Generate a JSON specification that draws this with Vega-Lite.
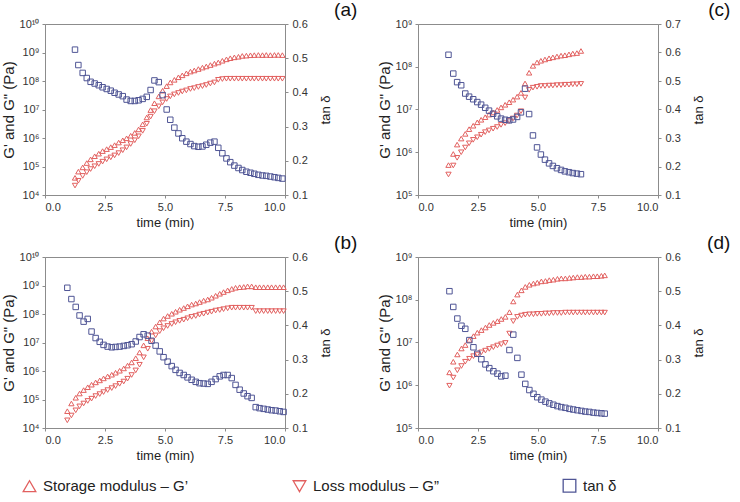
{
 "$schema": "https://vega.github.io/schema/vega-lite/v6.json",
 "padding": {"left": 0, "top": 0, "right": 2, "bottom": 0},
 "config": {
   "font": "Liberation Sans",
   "view": {"stroke": "#8c8c8c", "strokeWidth": 1},
   "axis": {"grid": false, "domainColor": "#8c8c8c", "tickColor": "#8c8c8c", "tickSize": 3, "labelFont": "Liberation Sans", "labelFontSize": 11, "labelColor": "#333333", "titleFont": "Liberation Sans", "titleFontSize": 13, "titleFontWeight": "normal", "titleColor": "#222222", "labelPadding": 3},
   "title": {"font": "Liberation Sans", "fontSize": 19, "fontWeight": "normal", "color": "#111111"}
 },
 "datasets": {
  "a": [
   {"t":1.25,"gs":4.0e4,"gl":2.14e4,"tan":0.525},{"t":1.39,"gs":6.6e4,"gl":3.16e4,"tan":0.480},{"t":1.57,"gs":9.3e4,"gl":4.68e4,"tan":0.457},{"t":1.74,"gs":1.32e5,"gl":6.31e4,"tan":0.442},{"t":1.90,"gs":1.78e5,"gl":8.13e4,"tan":0.431},{"t":2.07,"gs":2.29e5,"gl":1.02e5,"tan":0.426},{"t":2.24,"gs":2.82e5,"gl":1.23e5,"tan":0.421},{"t":2.40,"gs":3.47e5,"gl":1.48e5,"tan":0.415},{"t":2.57,"gs":4.07e5,"gl":1.78e5,"tan":0.410},{"t":2.74,"gs":4.79e5,"gl":2.09e5,"tan":0.405},{"t":2.90,"gs":5.62e5,"gl":2.45e5,"tan":0.399},{"t":3.07,"gs":6.92e5,"gl":2.95e5,"tan":0.394},{"t":3.24,"gs":8.32e5,"gl":3.72e5,"tan":0.389},{"t":3.40,"gs":9.77e5,"gl":4.68e5,"tan":0.379},{"t":3.57,"gs":1.20e6,"gl":6.17e5,"tan":0.375},{"t":3.74,"gs":1.51e6,"gl":8.32e5,"tan":0.375},{"t":3.90,"gs":2.0e6,"gl":1.15e6,"tan":0.377},{"t":4.07,"gs":3.02e6,"gl":1.78e6,"tan":0.381},{"t":4.24,"gs":5.25e6,"gl":3.16e6,"tan":0.387},{"t":4.40,"gs":9.55e6,"gl":5.62e6,"tan":0.407},{"t":4.56,"gs":1.66e7,"gl":8.71e6,"tan":0.435},{"t":4.74,"gs":2.88e7,"gl":1.29e7,"tan":0.430},{"t":4.90,"gs":4.57e7,"gl":1.78e7,"tan":0.392},{"t":5.07,"gs":6.61e7,"gl":2.34e7,"tan":0.350},{"t":5.22,"gs":8.91e7,"gl":2.88e7,"tan":0.320},{"t":5.39,"gs":1.10e8,"gl":3.39e7,"tan":0.297},{"t":5.56,"gs":1.35e8,"gl":3.80e7,"tan":0.280},{"t":5.72,"gs":1.58e8,"gl":4.27e7,"tan":0.266},{"t":5.89,"gs":1.86e8,"gl":4.68e7,"tan":0.256},{"t":6.06,"gs":2.14e8,"gl":5.25e7,"tan":0.249},{"t":6.22,"gs":2.34e8,"gl":5.62e7,"tan":0.243},{"t":6.39,"gs":2.63e8,"gl":6.17e7,"tan":0.241},{"t":6.56,"gs":2.95e8,"gl":6.61e7,"tan":0.242},{"t":6.72,"gs":3.24e8,"gl":7.24e7,"tan":0.247},{"t":6.89,"gs":3.63e8,"gl":8.13e7,"tan":0.253},{"t":7.06,"gs":4.07e8,"gl":8.91e7,"tan":0.256},{"t":7.22,"gs":4.47e8,"gl":1.10e8,"tan":0.238},{"t":7.39,"gs":5.13e8,"gl":1.17e8,"tan":0.222},{"t":7.56,"gs":5.75e8,"gl":1.20e8,"tan":0.207},{"t":7.72,"gs":6.31e8,"gl":1.20e8,"tan":0.196},{"t":7.89,"gs":6.76e8,"gl":1.20e8,"tan":0.186},{"t":8.06,"gs":7.08e8,"gl":1.20e8,"tan":0.179},{"t":8.22,"gs":7.59e8,"gl":1.20e8,"tan":0.173},{"t":8.39,"gs":7.76e8,"gl":1.20e8,"tan":0.168},{"t":8.56,"gs":8.0e8,"gl":1.20e8,"tan":0.165},{"t":8.72,"gs":8.1e8,"gl":1.20e8,"tan":0.162},{"t":8.89,"gs":8.2e8,"gl":1.20e8,"tan":0.159},{"t":9.06,"gs":8.1e8,"gl":1.20e8,"tan":0.157},{"t":9.22,"gs":8.2e8,"gl":1.20e8,"tan":0.156},{"t":9.39,"gs":8.1e8,"gl":1.20e8,"tan":0.154},{"t":9.56,"gs":8.2e8,"gl":1.20e8,"tan":0.152},{"t":9.72,"gs":8.2e8,"gl":1.20e8,"tan":0.150},{"t":9.89,"gs":8.1e8,"gl":1.20e8,"tan":0.148}
  ],
  "b": [
   {"t":0.93,"gs":3.89e4,"gl":1.86e4,"tan":0.510},{"t":1.10,"gs":7.24e4,"gl":2.75e4,"tan":0.477},{"t":1.28,"gs":1.15e5,"gl":4.17e4,"tan":0.454},{"t":1.44,"gs":1.62e5,"gl":5.75e4,"tan":0.429},{"t":1.61,"gs":2.14e5,"gl":7.24e4,"tan":0.411},{"t":1.78,"gs":2.69e5,"gl":8.91e4,"tan":0.419},{"t":1.94,"gs":3.31e5,"gl":1.07e5,"tan":0.382},{"t":2.11,"gs":3.98e5,"gl":1.32e5,"tan":0.363},{"t":2.28,"gs":4.68e5,"gl":1.55e5,"tan":0.352},{"t":2.44,"gs":5.50e5,"gl":1.82e5,"tan":0.343},{"t":2.61,"gs":6.46e5,"gl":2.14e5,"tan":0.338},{"t":2.78,"gs":7.41e5,"gl":2.51e5,"tan":0.336},{"t":2.94,"gs":8.71e5,"gl":2.95e5,"tan":0.337},{"t":3.11,"gs":1.02e6,"gl":3.55e5,"tan":0.338},{"t":3.28,"gs":1.23e6,"gl":4.27e5,"tan":0.340},{"t":3.44,"gs":1.55e6,"gl":5.37e5,"tan":0.342},{"t":3.61,"gs":2.00e6,"gl":7.24e5,"tan":0.345},{"t":3.78,"gs":2.82e6,"gl":1.05e6,"tan":0.353},{"t":3.94,"gs":4.47e6,"gl":1.66e6,"tan":0.366},{"t":4.11,"gs":7.94e6,"gl":3.02e6,"tan":0.374},{"t":4.28,"gs":1.41e7,"gl":6.03e6,"tan":0.370},{"t":4.44,"gs":2.40e7,"gl":1.12e7,"tan":0.355},{"t":4.61,"gs":3.63e7,"gl":1.78e7,"tan":0.341},{"t":4.78,"gs":5.13e7,"gl":2.51e7,"tan":0.324},{"t":4.94,"gs":6.92e7,"gl":3.16e7,"tan":0.307},{"t":5.11,"gs":8.51e7,"gl":3.80e7,"tan":0.294},{"t":5.28,"gs":1.02e8,"gl":4.47e7,"tan":0.281},{"t":5.44,"gs":1.20e8,"gl":5.13e7,"tan":0.270},{"t":5.61,"gs":1.41e8,"gl":5.75e7,"tan":0.261},{"t":5.78,"gs":1.62e8,"gl":6.31e7,"tan":0.255},{"t":5.94,"gs":1.86e8,"gl":7.08e7,"tan":0.248},{"t":6.11,"gs":2.14e8,"gl":7.94e7,"tan":0.241},{"t":6.28,"gs":2.34e8,"gl":8.51e7,"tan":0.235},{"t":6.44,"gs":2.63e8,"gl":9.55e7,"tan":0.231},{"t":6.61,"gs":2.95e8,"gl":1.02e8,"tan":0.230},{"t":6.78,"gs":3.24e8,"gl":1.12e8,"tan":0.229},{"t":6.94,"gs":3.72e8,"gl":1.20e8,"tan":0.235},{"t":7.11,"gs":4.37e8,"gl":1.32e8,"tan":0.243},{"t":7.28,"gs":5.13e8,"gl":1.38e8,"tan":0.251},{"t":7.44,"gs":5.89e8,"gl":1.48e8,"tan":0.255},{"t":7.61,"gs":6.76e8,"gl":1.58e8,"tan":0.255},{"t":7.78,"gs":7.59e8,"gl":1.66e8,"tan":0.246},{"t":7.94,"gs":8.32e8,"gl":1.66e8,"tan":0.226},{"t":8.11,"gs":8.71e8,"gl":1.66e8,"tan":0.212},{"t":8.28,"gs":8.91e8,"gl":1.66e8,"tan":0.201},{"t":8.44,"gs":9.33e8,"gl":1.66e8,"tan":0.193},{"t":8.61,"gs":9.33e8,"gl":1.66e8,"tan":0.188},{"t":8.78,"gs":8.71e8,"gl":1.26e8,"tan":0.161},{"t":8.94,"gs":8.71e8,"gl":1.26e8,"tan":0.158},{"t":9.11,"gs":8.71e8,"gl":1.26e8,"tan":0.156},{"t":9.28,"gs":8.71e8,"gl":1.26e8,"tan":0.154},{"t":9.44,"gs":8.71e8,"gl":1.26e8,"tan":0.152},{"t":9.61,"gs":8.71e8,"gl":1.26e8,"tan":0.151},{"t":9.78,"gs":8.71e8,"gl":1.26e8,"tan":0.149},{"t":9.94,"gs":8.71e8,"gl":1.26e8,"tan":0.147}
  ],
  "c": [
   {"t":1.27,"gs":5.01e5,"gl":3.02e5,"tan":0.592},{"t":1.47,"gs":9.12e5,"gl":4.90e5,"tan":0.526},{"t":1.63,"gs":1.51e6,"gl":7.41e5,"tan":0.496},{"t":1.80,"gs":2.09e6,"gl":1.00e6,"tan":0.485},{"t":1.97,"gs":2.69e6,"gl":1.29e6,"tan":0.456},{"t":2.13,"gs":3.47e6,"gl":1.62e6,"tan":0.445},{"t":2.30,"gs":4.17e6,"gl":1.95e6,"tan":0.436},{"t":2.47,"gs":5.01e6,"gl":2.24e6,"tan":0.426},{"t":2.63,"gs":5.75e6,"gl":2.57e6,"tan":0.417},{"t":2.80,"gs":6.61e6,"gl":2.95e6,"tan":0.406},{"t":2.96,"gs":7.59e6,"gl":3.24e6,"tan":0.396},{"t":3.13,"gs":8.51e6,"gl":3.55e6,"tan":0.385},{"t":3.30,"gs":9.77e6,"gl":3.89e6,"tan":0.376},{"t":3.46,"gs":1.12e7,"gl":4.37e6,"tan":0.368},{"t":3.63,"gs":1.29e7,"gl":4.79e6,"tan":0.364},{"t":3.80,"gs":1.48e7,"gl":5.37e6,"tan":0.362},{"t":3.96,"gs":1.70e7,"gl":6.17e6,"tan":0.365},{"t":4.13,"gs":2.00e7,"gl":7.24e6,"tan":0.374},{"t":4.29,"gs":2.45e7,"gl":9.12e6,"tan":0.390},{"t":4.46,"gs":4.07e7,"gl":1.91e7,"tan":0.473},{"t":4.63,"gs":7.24e7,"gl":2.88e7,"tan":0.384},{"t":4.79,"gs":1.05e8,"gl":3.24e7,"tan":0.309},{"t":4.96,"gs":1.26e8,"gl":3.39e7,"tan":0.267},{"t":5.12,"gs":1.38e8,"gl":3.55e7,"tan":0.242},{"t":5.29,"gs":1.48e8,"gl":3.55e7,"tan":0.224},{"t":5.46,"gs":1.58e8,"gl":3.63e7,"tan":0.211},{"t":5.62,"gs":1.66e8,"gl":3.63e7,"tan":0.202},{"t":5.79,"gs":1.74e8,"gl":3.72e7,"tan":0.194},{"t":5.96,"gs":1.82e8,"gl":3.72e7,"tan":0.188},{"t":6.12,"gs":1.86e8,"gl":3.80e7,"tan":0.183},{"t":6.29,"gs":1.95e8,"gl":3.80e7,"tan":0.180},{"t":6.45,"gs":2.04e8,"gl":3.89e7,"tan":0.177},{"t":6.62,"gs":2.09e8,"gl":3.89e7,"tan":0.175},{"t":6.79,"gs":2.34e8,"gl":3.98e7,"tan":0.173}
  ],
  "d": [
   {"t":1.31,"gs":2.00e6,"gl":9.77e5,"tan":0.500},{"t":1.47,"gs":3.55e6,"gl":1.51e6,"tan":0.454},{"t":1.64,"gs":5.25e6,"gl":2.24e6,"tan":0.420},{"t":1.81,"gs":7.24e6,"gl":2.82e6,"tan":0.399},{"t":1.97,"gs":8.71e6,"gl":3.55e6,"tan":0.390},{"t":2.14,"gs":1.15e7,"gl":4.17e6,"tan":0.357},{"t":2.31,"gs":1.41e7,"gl":4.79e6,"tan":0.336},{"t":2.47,"gs":1.70e7,"gl":5.25e6,"tan":0.317},{"t":2.64,"gs":1.95e7,"gl":5.89e6,"tan":0.301},{"t":2.81,"gs":2.24e7,"gl":6.46e6,"tan":0.286},{"t":2.97,"gs":2.57e7,"gl":7.08e6,"tan":0.275},{"t":3.14,"gs":2.88e7,"gl":7.76e6,"tan":0.266},{"t":3.31,"gs":3.16e7,"gl":8.51e6,"tan":0.259},{"t":3.47,"gs":3.55e7,"gl":9.12e6,"tan":0.251},{"t":3.64,"gs":3.98e7,"gl":9.77e6,"tan":0.253},{"t":3.81,"gs":5.13e7,"gl":1.62e7,"tan":0.328},{"t":3.97,"gs":9.12e7,"gl":3.16e7,"tan":0.373},{"t":4.14,"gs":1.32e8,"gl":3.98e7,"tan":0.305},{"t":4.31,"gs":1.66e8,"gl":4.27e7,"tan":0.256},{"t":4.47,"gs":2.00e8,"gl":4.47e7,"tan":0.229},{"t":4.64,"gs":2.24e8,"gl":4.57e7,"tan":0.211},{"t":4.81,"gs":2.40e8,"gl":4.57e7,"tan":0.200},{"t":4.97,"gs":2.51e8,"gl":4.68e7,"tan":0.190},{"t":5.14,"gs":2.69e8,"gl":4.68e7,"tan":0.183},{"t":5.31,"gs":2.75e8,"gl":4.79e7,"tan":0.177},{"t":5.47,"gs":2.88e8,"gl":4.79e7,"tan":0.172},{"t":5.64,"gs":2.95e8,"gl":4.90e7,"tan":0.168},{"t":5.81,"gs":3.09e8,"gl":4.90e7,"tan":0.164},{"t":5.97,"gs":3.16e8,"gl":4.90e7,"tan":0.161},{"t":6.14,"gs":3.16e8,"gl":5.01e7,"tan":0.159},{"t":6.31,"gs":3.24e8,"gl":5.01e7,"tan":0.156},{"t":6.47,"gs":3.31e8,"gl":5.01e7,"tan":0.154},{"t":6.64,"gs":3.39e8,"gl":5.01e7,"tan":0.152},{"t":6.81,"gs":3.39e8,"gl":5.01e7,"tan":0.150},{"t":6.97,"gs":3.47e8,"gl":5.01e7,"tan":0.148},{"t":7.14,"gs":3.47e8,"gl":5.01e7,"tan":0.147},{"t":7.31,"gs":3.55e8,"gl":5.01e7,"tan":0.145},{"t":7.47,"gs":3.55e8,"gl":5.01e7,"tan":0.144},{"t":7.64,"gs":3.63e8,"gl":5.01e7,"tan":0.143},{"t":7.78,"gs":3.72e8,"gl":5.01e7,"tan":0.142}
  ]
 },
 "columns": 2,
 "spacing": {"row": 3, "column": 18},
 "resolve": {"scale": {"shape": "shared", "color": "shared"}},
 "concat": [
  {
   "width": 240, "height": 171,
   "title": {"text": "(a)", "anchor": "end", "frame": "bounds", "dx": 25, "offset": -2},
   "data": {"name": "a"},
   "layer": [
    {"transform": [{"fold": ["gs", "gl"], "as": ["series", "G"]}],
     "mark": {"type": "point", "filled": false, "size": 28, "strokeWidth": 1, "opacity": 1},
     "encoding": {
      "x": {"field": "t", "type": "quantitative", "scale": {"domain": [0, 10]}, "axis": {"values": [0, 2.5, 5, 7.5, 10], "format": ".1f", "title": "time (min)"}},
      "y": {"field": "G", "type": "quantitative", "scale": {"type": "log", "domain": [1e4, 1e10]}, "axis": {"values": [1e4, 1e5, 1e6, 1e7, 1e8, 1e9, 1e10], "labelExpr": "datum.value > 3e9 ? '10¹⁰' : datum.value > 3e8 ? '10⁹' : datum.value > 3e7 ? '10⁸' : datum.value > 3e6 ? '10⁷' : datum.value > 3e5 ? '10⁶' : datum.value > 3e4 ? '10⁵' : '10⁴'", "title": "G' and G\" (Pa)", "titleFontSize": 15, "titlePadding": 3}},
      "shape": {"field": "series", "type": "nominal", "scale": {"domain": ["gs", "gl", "tan"], "range": ["triangle-up", "triangle-down", "square"]}, "legend": {"title": null, "orient": "none", "legendX": -23, "legendY": 454, "direction": "horizontal", "gridAlign": "all", "columnPadding": 101, "symbolSize": 160, "symbolStrokeWidth": 1.3, "labelFontSize": 15, "labelColor": "#222222", "labelOffset": 6, "labelLimit": 300, "labelExpr": "datum.label == 'gs' ? 'Storage modulus – G’' : datum.label == 'gl' ? 'Loss modulus – G”' : 'tan δ'"}},
      "color": {"field": "series", "type": "nominal", "scale": {"domain": ["gs", "gl", "tan"], "range": ["#e2605f", "#e2605f", "#4f5595"]}, "legend": {"title": null, "orient": "none", "legendX": -23, "legendY": 454, "direction": "horizontal", "gridAlign": "all", "columnPadding": 101, "symbolSize": 160, "symbolStrokeWidth": 1.3, "labelFontSize": 15, "labelColor": "#222222", "labelOffset": 6, "labelLimit": 300, "labelExpr": "datum.label == 'gs' ? 'Storage modulus – G’' : datum.label == 'gl' ? 'Loss modulus – G”' : 'tan δ'"}}
     }},
    {"transform": [{"fold": ["tan"], "as": ["series", "tanv"]}],
     "mark": {"type": "point", "filled": false, "size": 30, "strokeWidth": 1, "opacity": 1},
     "encoding": {
      "x": {"field": "t", "type": "quantitative"},
      "y": {"field": "tanv", "type": "quantitative", "scale": {"domain": [0.1, 0.6]}, "axis": {"orient": "right", "values": [0.1, 0.2, 0.3, 0.4, 0.5, 0.6], "format": ".1f", "labelPadding": 4, "title": "tan δ", "titleAngle": 270, "titleBaseline": "top", "titlePadding": 12}},
      "shape": {"field": "series", "type": "nominal"},
      "color": {"field": "series", "type": "nominal"}
     }}
   ],
   "resolve": {"scale": {"y": "independent"}}
  },
  {
   "width": 240, "height": 171,
   "title": {"text": "(c)", "anchor": "end", "frame": "bounds", "dx": 25, "offset": -2},
   "data": {"name": "c"},
   "layer": [
    {"transform": [{"fold": ["gs", "gl"], "as": ["series", "G"]}],
     "mark": {"type": "point", "filled": false, "size": 28, "strokeWidth": 1, "opacity": 1},
     "encoding": {
      "x": {"field": "t", "type": "quantitative", "scale": {"domain": [0, 10]}, "axis": {"values": [0, 2.5, 5, 7.5, 10], "format": ".1f", "title": "time (min)"}},
      "y": {"field": "G", "type": "quantitative", "scale": {"type": "log", "domain": [1e5, 1e9]}, "axis": {"values": [1e5, 1e6, 1e7, 1e8, 1e9], "labelExpr": "datum.value > 3e9 ? '10¹⁰' : datum.value > 3e8 ? '10⁹' : datum.value > 3e7 ? '10⁸' : datum.value > 3e6 ? '10⁷' : datum.value > 3e5 ? '10⁶' : datum.value > 3e4 ? '10⁵' : '10⁴'", "title": "G' and G\" (Pa)", "titleFontSize": 15, "titlePadding": 3}},
      "shape": {"field": "series", "type": "nominal"},
      "color": {"field": "series", "type": "nominal"}
     }},
    {"transform": [{"fold": ["tan"], "as": ["series", "tanv"]}],
     "mark": {"type": "point", "filled": false, "size": 30, "strokeWidth": 1, "opacity": 1},
     "encoding": {
      "x": {"field": "t", "type": "quantitative"},
      "y": {"field": "tanv", "type": "quantitative", "scale": {"domain": [0.1, 0.7]}, "axis": {"orient": "right", "values": [0.1, 0.2, 0.3, 0.4, 0.5, 0.6, 0.7], "format": ".1f", "labelPadding": 4, "title": "tan δ", "titleAngle": 270, "titleBaseline": "top", "titlePadding": 12}},
      "shape": {"field": "series", "type": "nominal"},
      "color": {"field": "series", "type": "nominal"}
     }}
   ],
   "resolve": {"scale": {"y": "independent"}}
  },
  {
   "width": 240, "height": 171,
   "title": {"text": "(b)", "anchor": "end", "frame": "bounds", "dx": 25, "offset": -2},
   "data": {"name": "b"},
   "layer": [
    {"transform": [{"fold": ["gs", "gl"], "as": ["series", "G"]}],
     "mark": {"type": "point", "filled": false, "size": 28, "strokeWidth": 1, "opacity": 1},
     "encoding": {
      "x": {"field": "t", "type": "quantitative", "scale": {"domain": [0, 10]}, "axis": {"values": [0, 2.5, 5, 7.5, 10], "format": ".1f", "title": "time (min)"}},
      "y": {"field": "G", "type": "quantitative", "scale": {"type": "log", "domain": [1e4, 1e10]}, "axis": {"values": [1e4, 1e5, 1e6, 1e7, 1e8, 1e9, 1e10], "labelExpr": "datum.value > 3e9 ? '10¹⁰' : datum.value > 3e8 ? '10⁹' : datum.value > 3e7 ? '10⁸' : datum.value > 3e6 ? '10⁷' : datum.value > 3e5 ? '10⁶' : datum.value > 3e4 ? '10⁵' : '10⁴'", "title": "G' and G\" (Pa)", "titleFontSize": 15, "titlePadding": 3}},
      "shape": {"field": "series", "type": "nominal"},
      "color": {"field": "series", "type": "nominal"}
     }},
    {"transform": [{"fold": ["tan"], "as": ["series", "tanv"]}],
     "mark": {"type": "point", "filled": false, "size": 30, "strokeWidth": 1, "opacity": 1},
     "encoding": {
      "x": {"field": "t", "type": "quantitative"},
      "y": {"field": "tanv", "type": "quantitative", "scale": {"domain": [0.1, 0.6]}, "axis": {"orient": "right", "values": [0.1, 0.2, 0.3, 0.4, 0.5, 0.6], "format": ".1f", "labelPadding": 4, "title": "tan δ", "titleAngle": 270, "titleBaseline": "top", "titlePadding": 12}},
      "shape": {"field": "series", "type": "nominal"},
      "color": {"field": "series", "type": "nominal"}
     }}
   ],
   "resolve": {"scale": {"y": "independent"}}
  },
  {
   "width": 240, "height": 171,
   "title": {"text": "(d)", "anchor": "end", "frame": "bounds", "dx": 25, "offset": -2},
   "data": {"name": "d"},
   "layer": [
    {"transform": [{"fold": ["gs", "gl"], "as": ["series", "G"]}],
     "mark": {"type": "point", "filled": false, "size": 28, "strokeWidth": 1, "opacity": 1},
     "encoding": {
      "x": {"field": "t", "type": "quantitative", "scale": {"domain": [0, 10]}, "axis": {"values": [0, 2.5, 5, 7.5, 10], "format": ".1f", "title": "time (min)"}},
      "y": {"field": "G", "type": "quantitative", "scale": {"type": "log", "domain": [1e5, 1e9]}, "axis": {"values": [1e5, 1e6, 1e7, 1e8, 1e9], "labelExpr": "datum.value > 3e9 ? '10¹⁰' : datum.value > 3e8 ? '10⁹' : datum.value > 3e7 ? '10⁸' : datum.value > 3e6 ? '10⁷' : datum.value > 3e5 ? '10⁶' : datum.value > 3e4 ? '10⁵' : '10⁴'", "title": "G' and G\" (Pa)", "titleFontSize": 15, "titlePadding": 3}},
      "shape": {"field": "series", "type": "nominal"},
      "color": {"field": "series", "type": "nominal"}
     }},
    {"transform": [{"fold": ["tan"], "as": ["series", "tanv"]}],
     "mark": {"type": "point", "filled": false, "size": 30, "strokeWidth": 1, "opacity": 1},
     "encoding": {
      "x": {"field": "t", "type": "quantitative"},
      "y": {"field": "tanv", "type": "quantitative", "scale": {"domain": [0.1, 0.6]}, "axis": {"orient": "right", "values": [0.1, 0.2, 0.3, 0.4, 0.5, 0.6], "format": ".1f", "labelPadding": 4, "title": "tan δ", "titleAngle": 270, "titleBaseline": "top", "titlePadding": 12}},
      "shape": {"field": "series", "type": "nominal"},
      "color": {"field": "series", "type": "nominal"}
     }}
   ],
   "resolve": {"scale": {"y": "independent"}}
  }
 ]
}
